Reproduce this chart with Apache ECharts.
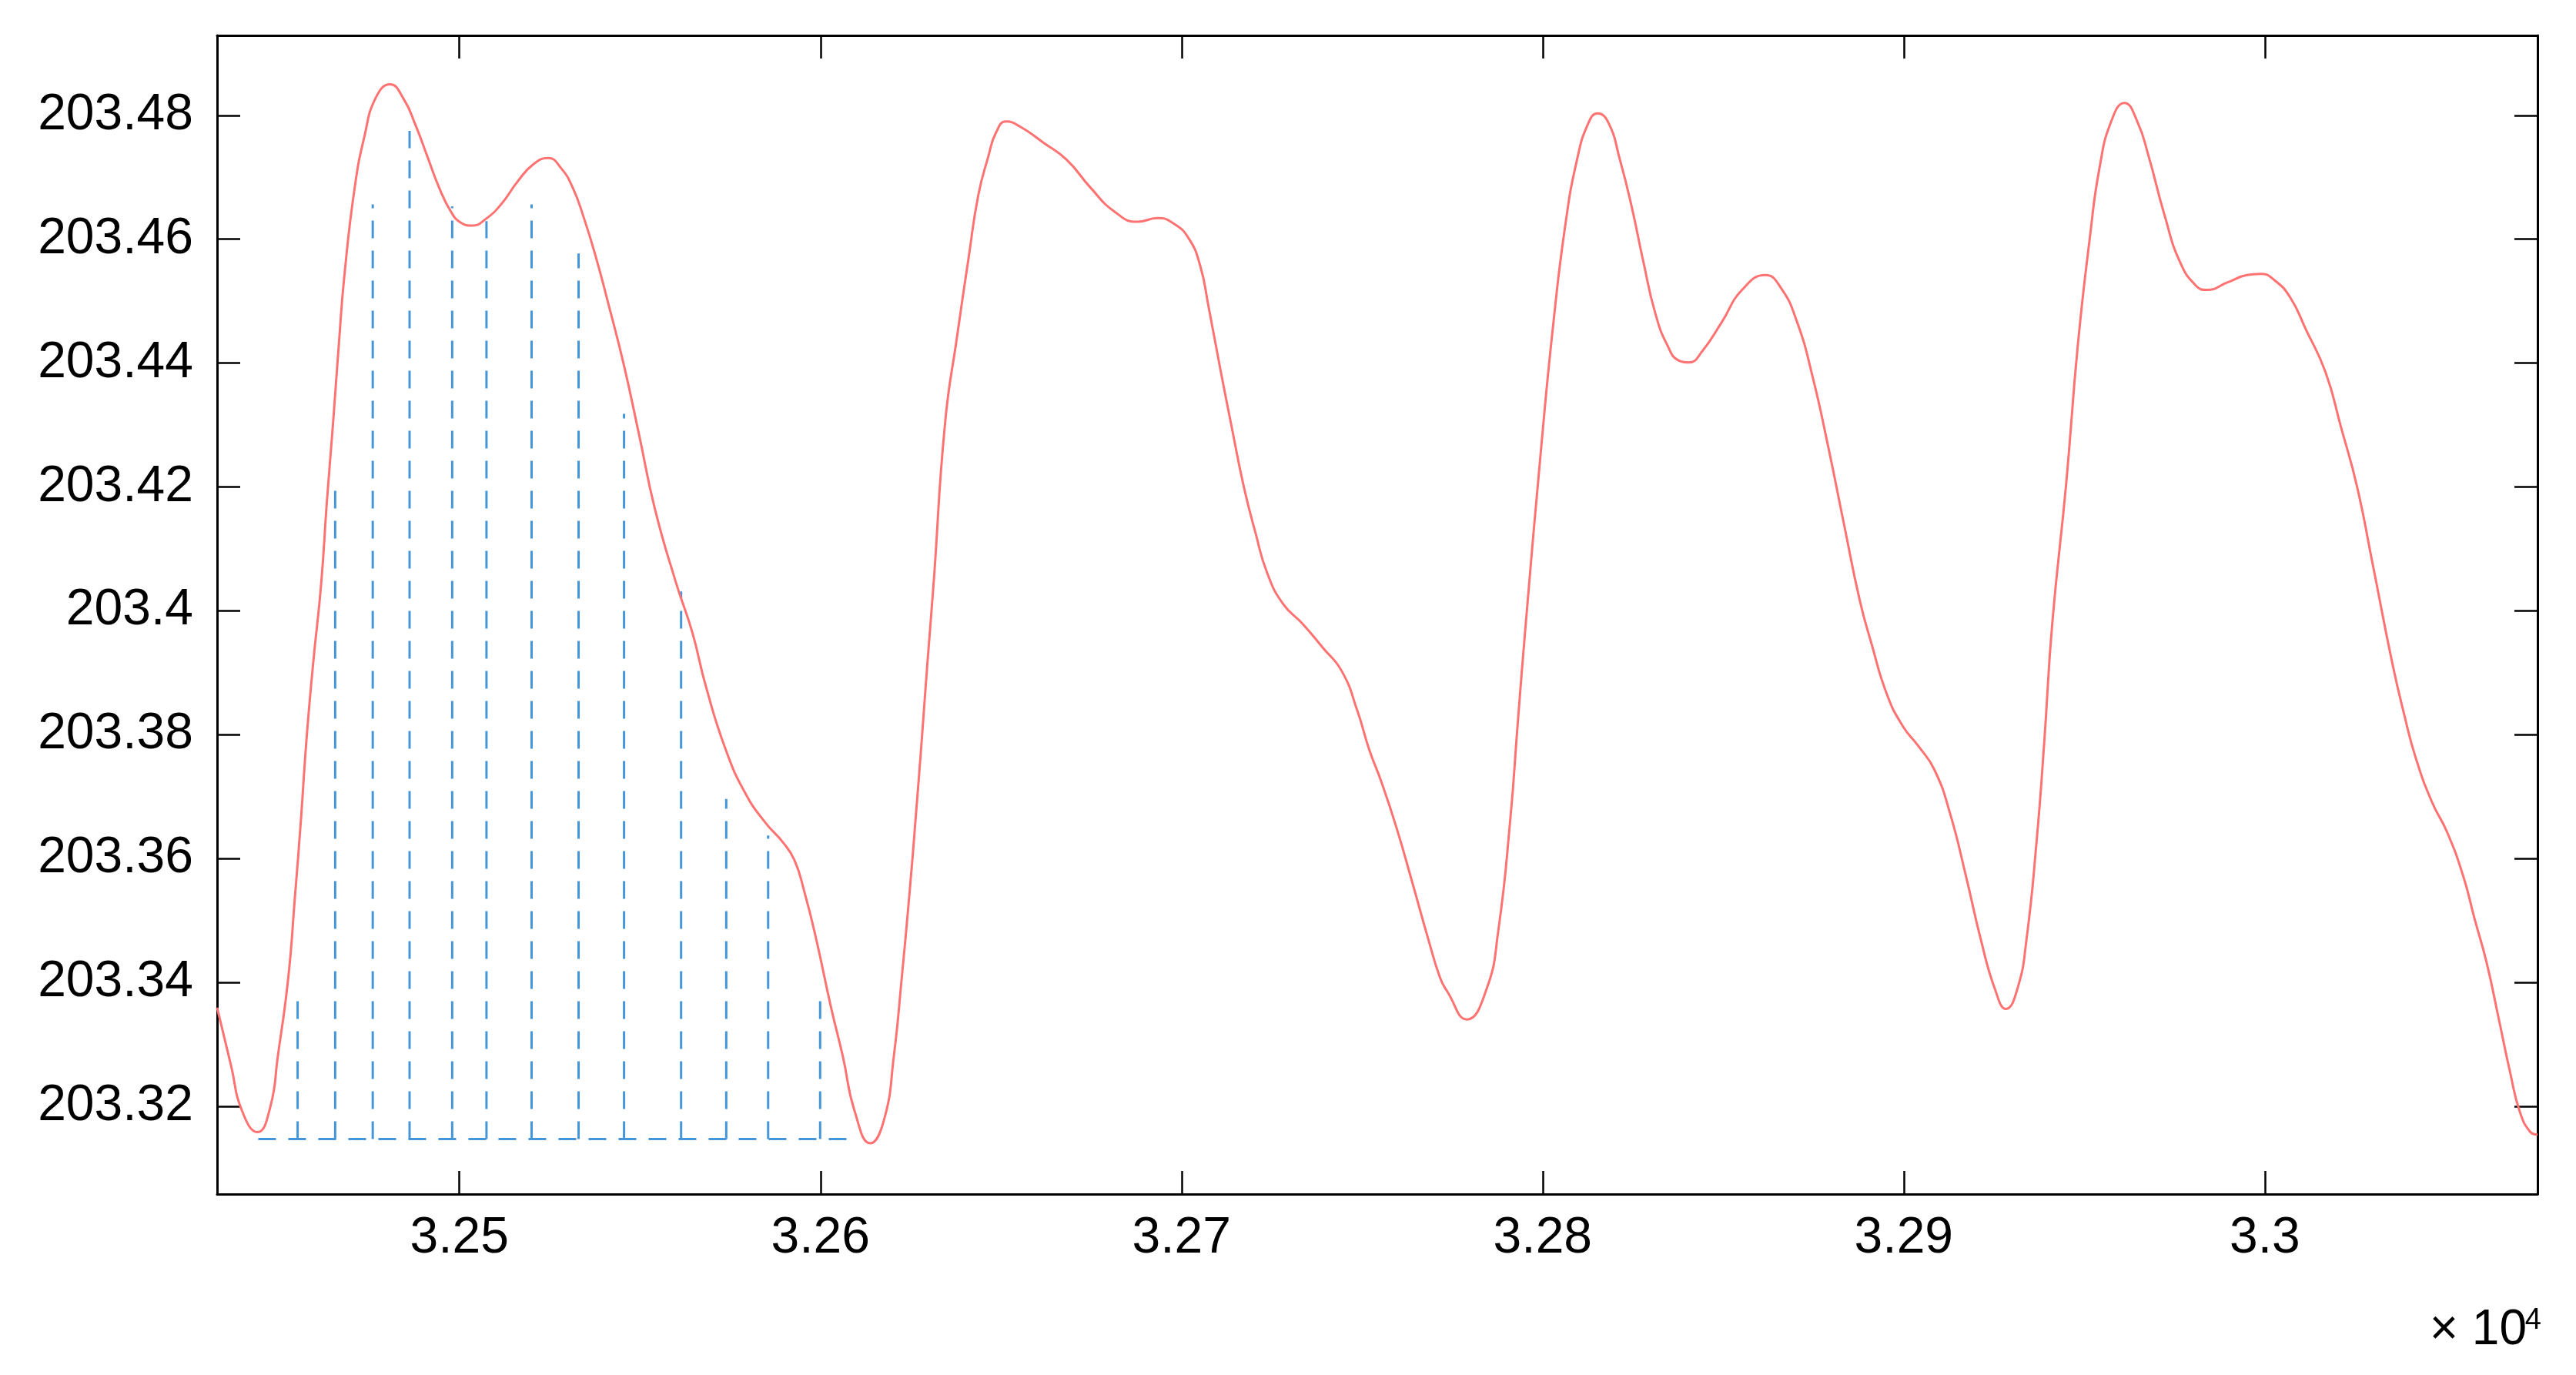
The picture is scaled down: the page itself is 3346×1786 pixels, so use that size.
<!DOCTYPE html>
<html>
<head>
<meta charset="utf-8">
<title>curve</title>
<script src="https://cdn.jsdelivr.net/npm/echarts@6/dist/echarts.min.js"></script>
<style>
html, body { margin: 0; padding: 0; background: #fff; }
#chart { width: 3346px; height: 1786px; }
</style>
</head>
<body>
<div id="chart"></div>
<script>
// red curve
var curveX = [32432.9, 32436.7, 32439.9, 32444.1, 32447.6, 32449.7, 32452.6, 32454.4, 32456.1, 32457.6,
	32459.5, 32461.7, 32463.3, 32465.0, 32466.6, 32468.2, 32471.0, 32473.7, 32476.9, 32480.8,
	32484.6, 32487.8, 32491.1, 32494.4, 32497.6, 32500.3, 32503.6, 32507.4, 32511.8, 32516.1,
	32520.5, 32524.6, 32528.1, 32531.4, 32534.6, 32537.9, 32541.1, 32545.5, 32549.8, 32554.2,
	32560.0, 32564.5, 32568.3, 32573.8, 32579.2, 32584.7, 32589.6, 32592.8, 32595.5, 32598.8,
	32602.9, 32606.2, 32609.5, 32613.8, 32617.6, 32620.3, 32622.5, 32624.7, 32626.3, 32628.0,
	32629.6, 32631.3, 32634.5, 32637.8, 32641.0, 32643.7, 32646.5, 32648.6, 32651.4, 32655.2,
	32661.7, 32668.2, 32674.8, 32681.3, 32687.8, 32693.3, 32697.6, 32702.0, 32705.2, 32707.4,
	32710.7, 32713.9, 32717.2, 32720.5, 32723.7, 32728.1, 32733.5, 32739.0, 32744.4, 32748.7,
	32752.0, 32755.3, 32759.6, 32764.0, 32768.3, 32771.6, 32773.6, 32779.0, 32784.4, 32787.7,
	32791.0, 32793.1, 32795.3, 32799.7, 32802.9, 32806.2, 32809.5, 32812.7, 32815.2, 32818.2,
	32821.4, 32824.7, 32827.9, 32831.2, 32834.5, 32837.7, 32840.5, 32844.3, 32849.7, 32855.2,
	32861.7, 32866.0, 32870.4, 32874.7, 32879.1, 32883.5, 32887.8, 32891.1, 32895.4, 32899.8,
	32904.1, 32908.5, 32912.8, 32917.2, 32921.3, 32925.3, 32928.3, 32931.5, 32934.0, 32936.8,
	32938.9, 32941.1, 32945.0, 32948.2, 32951.5, 32954.2, 32957.5, 32961.1, 32964.6, 32967.8,
	32972.2, 32976.5, 32980.9, 32983.9, 32989.6, 32995.0, 32998.8, 33002.6, 33007.0, 33011.3,
	33016.8, 33021.1, 33025.5, 33029.9, 33035.3, 33038.6, 33041.8, 33046.2, 33050.5, 33054.9,
	33058.1, 33061.4, 33064.7, 33067.9, 33070.6, 33073.4, 33075.5];
var curveY = [203.3359, 203.3267, 203.3191, 203.3158, 203.3198, 203.3280, 203.3407, 203.3534, 203.3661, 203.3788,
	203.3915, 203.4042, 203.4176, 203.4302, 203.4429, 203.4544, 203.4683, 203.4766, 203.4829, 203.4850,
	203.4826, 203.4785, 203.4734, 203.4683, 203.4645, 203.4627, 203.4622, 203.4633, 203.4658, 203.4693,
	203.4721, 203.4731, 203.4715, 203.4683, 203.4632, 203.4569, 203.4499, 203.4398, 203.4283, 203.4163,
	203.4045, 203.3965, 203.3877, 203.3775, 203.3705, 203.3658, 203.3626, 203.3597, 203.3547, 203.3470,
	203.3360, 203.3280, 203.3191, 203.3140, 203.3178, 203.3280, 203.3407, 203.3547, 203.3661, 203.3788,
	203.3915, 203.4042, 203.4303, 203.4442, 203.4569, 203.4671, 203.4734, 203.4772, 203.4790, 203.4782,
	203.4756, 203.4728, 203.4683, 203.4645, 203.4628, 203.4634, 203.4626, 203.4601, 203.4556, 203.4493,
	203.4391, 203.4296, 203.4201, 203.4125, 203.4061, 203.4011, 203.3979, 203.3941, 203.3902, 203.3838,
	203.3775, 203.3724, 203.3648, 203.3559, 203.3470, 203.3407, 203.3385, 203.3340, 203.3388, 203.3483,
	203.3661, 203.3819, 203.3978, 203.4271, 203.4461, 203.4620, 203.4728, 203.4788, 203.4803, 203.4788,
	203.4728, 203.4651, 203.4563, 203.4480, 203.4429, 203.4404, 203.4401, 203.4420, 203.4467, 203.4518,
	203.4542, 203.4521, 203.4467, 203.4379, 203.4264, 203.4138, 203.4017, 203.3946, 203.3864, 203.3813,
	203.3781, 203.3743, 203.3673, 203.3572, 203.3470, 203.3388, 203.3357, 203.3390, 203.3470, 203.3629,
	203.3788, 203.3978, 203.4207, 203.4429, 203.4601, 203.4715, 203.4791, 203.4820, 203.4791, 203.4734,
	203.4639, 203.4563, 203.4525, 203.4518, 203.4530, 203.4542, 203.4544, 203.4534, 203.4506, 203.4455,
	203.4385, 203.4296, 203.4201, 203.4074, 203.3915, 203.3832, 203.3762, 203.3692, 203.3642, 203.3572,
	203.3502, 203.3432, 203.3343, 203.3255, 203.3191, 203.3159, 203.3154];

// blue dashed stems
var stemX = [32455.2, 32465.6, 32476.0, 32486.2, 32498.0, 32507.5, 32520.0, 32533.0, 32545.6, 32561.4, 32573.9, 32585.5, 32599.9];
var stemY = [203.3376, 203.4204, 203.4656, 203.4775, 203.4653, 203.4629, 203.4656, 203.4577, 203.4318, 203.4031, 203.3696, 203.3637, 203.3376];
var stemBase = 203.3147;
var baseLineX = [32444.3, 32609.3];

// axis ranges and tick steps
var xRange = [32432.9, 33075.5];
var yRange = [203.3058, 203.4929];
var xStep = 100;
var yStep = 0.02;

var FONT = '"Liberation Sans", Arial, Helvetica, sans-serif';
var RED = '#ff7272';
var BLUE = '#4596d8';
var DASH = [23, 16];

function pairs(xs, ys) {
	var out = [];
	for (var i = 0; i < xs.length; i++) out.push([xs[i], ys[i]]);
	return out;
}

function xAxisOf(pos, showLabel) {
	return {
		type: 'value',
		position: pos,
		min: xRange[0],
		max: xRange[1],
		minInterval: xStep,
		maxInterval: xStep,
		splitLine: { show: false },
		axisLine: { show: true, onZero: false, lineStyle: { color: '#000', width: 3 } },
		axisTick: { show: true, inside: true, length: 30, lineStyle: { color: '#000', width: 2.5 } },
		axisLabel: {
			show: showLabel,
			margin: 25,
			color: '#000',
			fontSize: 66,
			fontFamily: FONT,
			showMinLabel: false,
			showMaxLabel: false,
			formatter: function (v) { return String(+(v / 1e4).toFixed(4)); }
		}
	};
}

function yAxisOf(pos, showLabel) {
	return {
		type: 'value',
		position: pos,
		min: yRange[0],
		max: yRange[1],
		minInterval: yStep,
		maxInterval: yStep,
		splitLine: { show: false },
		axisLine: { show: true, onZero: false, lineStyle: { color: '#000', width: 3 } },
		axisTick: { show: true, inside: true, length: 30, lineStyle: { color: '#000', width: 2.5 } },
		axisLabel: {
			show: showLabel,
			margin: 31,
			color: '#000',
			fontSize: 66,
			fontFamily: FONT,
			showMinLabel: false,
			showMaxLabel: false
		}
	};
}

// one dashed line from the base up to each stem value
function renderStem(params, api) {
	var top = api.coord([api.value(0), api.value(1)]);
	var bot = api.coord([api.value(0), stemBase]);
	return {
		type: 'line',
		shape: { x1: bot[0], y1: bot[1], x2: top[0], y2: top[1] },
		style: { stroke: BLUE, lineWidth: 3, lineDash: DASH }
	};
}

var option = {
	backgroundColor: '#fff',
	animation: false,
	grid: { left: 282, right: 50, top: 46, bottom: 235, containLabel: false, outerBoundsMode: 'none' },
	xAxis: [xAxisOf('bottom', true), xAxisOf('top', false)],
	yAxis: [yAxisOf('left', true), yAxisOf('right', false)],
	graphic: [
		{ type: 'text', x: 3282, y: 1728, style: { text: '× 10', font: '64px ' + FONT, fill: '#000', align: 'right', verticalAlign: 'middle' } },
		{ type: 'text', x: 3301, y: 1716, style: { text: '4', font: '38px ' + FONT, fill: '#000', align: 'right', verticalAlign: 'middle' } }
	],
	series: [
		{
			name: 'base',
			type: 'line',
			data: [[baseLineX[0], stemBase], [baseLineX[1], stemBase]],
			showSymbol: false,
			silent: true,
			lineStyle: { color: BLUE, width: 3, type: DASH }
		},
		{
			name: 'stems',
			type: 'custom',
			renderItem: renderStem,
			data: pairs(stemX, stemY),
			silent: true
		},
		{
			name: 'curve',
			type: 'line',
			data: pairs(curveX, curveY),
			smooth: 0.5,
			showSymbol: false,
			lineStyle: { color: RED, width: 3 }
		}
	]
};

var myChart = echarts.init(document.getElementById('chart'));
myChart.setOption(option);
</script>
</body>
</html>
